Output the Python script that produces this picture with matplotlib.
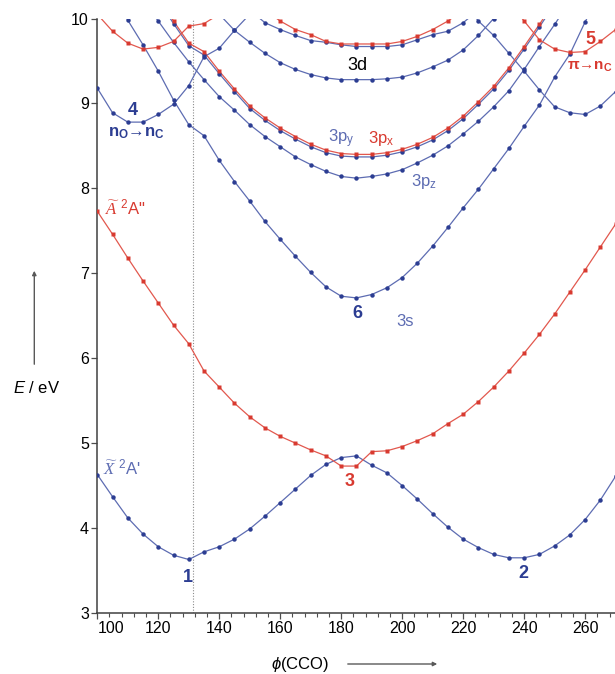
import numpy as np
import matplotlib
matplotlib.use('Agg')
import matplotlib.pyplot as plt

plt.rcParams.update({'font.family': ['Liberation Sans', 'DejaVu Sans'], 'font.size': 11,
                     'mathtext.fontset': 'custom',
                     'mathtext.rm': 'Liberation Sans',
                     'mathtext.it': 'Liberation Sans:italic',
                     'mathtext.bf': 'Liberation Sans:bold',
                     'mathtext.sf': 'Liberation Serif:italic',
                     'mathtext.fallback': 'stix'})

# CCO angle (deg) and energies (eV)
phi_X = np.arange(100, 271, 5)
E_X = [4.63, 4.37, 4.12, 3.93, 3.78, 3.68, 3.63, 3.72, 3.78, 3.87, 3.99, 4.14, 4.30, 4.46, 4.62, 4.75,
       4.83, 4.85, 4.74, 4.65, 4.50, 4.34, 4.17, 4.01, 3.87, 3.77, 3.69, 3.65, 3.65, 3.69, 3.79, 3.92,
       4.10, 4.33, 4.61]

phi_A = np.arange(100, 271, 5)
E_A = [7.73, 7.46, 7.18, 6.91, 6.65, 6.39, 6.17, 5.85, 5.66, 5.47, 5.31, 5.18, 5.08, 5.00, 4.92, 4.85,
       4.73, 4.73, 4.90, 4.91, 4.96, 5.03, 5.11, 5.23, 5.34, 5.49, 5.66, 5.85, 6.06, 6.28, 6.52, 6.78,
       7.04, 7.31, 7.58]

phi_3s = np.arange(105, 266, 5)
E_3s = [10.28, 9.98, 9.69, 9.38, 9.04, 8.75, 8.62, 8.33, 8.08, 7.85, 7.61, 7.40, 7.20, 7.01, 6.84, 6.73,
        6.71, 6.75, 6.83, 6.95, 7.12, 7.32, 7.54, 7.77, 7.99, 8.23, 8.47, 8.73, 8.98, 9.31, 9.58, 9.96,
        10.30]

phi_3pz = np.arange(115, 256, 5)
E_3pz = [10.20, 9.97, 9.72, 9.49, 9.28, 9.08, 8.92, 8.75, 8.61, 8.49, 8.37, 8.28, 8.20, 8.14, 8.12,
         8.14, 8.17, 8.22, 8.30, 8.39, 8.50, 8.64, 8.79, 8.96, 9.15, 9.40, 9.67, 9.93, 10.20]

phi_3p = np.arange(120, 251, 5)
E_3px = [10.25, 9.97, 9.71, 9.61, 9.38, 9.17, 8.97, 8.83, 8.71, 8.61, 8.52, 8.45, 8.41, 8.40, 8.40,
         8.42, 8.46, 8.52, 8.60, 8.71, 8.85, 9.02, 9.20, 9.42, 9.67, 9.93, 10.20]
E_3py = [10.22, 9.94, 9.68, 9.57, 9.35, 9.14, 8.94, 8.80, 8.68, 8.58, 8.49, 8.42, 8.38, 8.37, 8.37,
         8.39, 8.43, 8.49, 8.57, 8.68, 8.82, 8.99, 9.17, 9.39, 9.64, 9.90, 10.17]

phi_3d_lo = np.arange(140, 236, 5)
E_3d_lo = [10.05, 9.86, 9.72, 9.59, 9.48, 9.40, 9.34, 9.30, 9.28, 9.28, 9.28, 9.29, 9.31, 9.36, 9.43,
           9.51, 9.63, 9.80, 10.00, 10.20]

phi_3d_hi = np.arange(150, 226, 5)
E_3d_hi = [10.10, 9.95, 9.87, 9.80, 9.74, 9.72, 9.69, 9.67, 9.67, 9.67, 9.69, 9.75, 9.81, 9.85, 9.95,
           10.10]

phi_3d_red = np.arange(155, 221, 5)
E_3d_red = [10.10, 9.97, 9.87, 9.81, 9.73, 9.70, 9.70, 9.70, 9.70, 9.73, 9.79, 9.87, 9.97, 10.10]

phi_nn = np.arange(100, 151, 5)
E_nn = [9.18, 8.89, 8.78, 8.78, 8.87, 8.99, 9.21, 9.55, 9.65, 9.86, 10.05]

phi_blue_r = np.arange(220, 271, 5)
E_blue_r = [10.20, 9.97, 9.80, 9.59, 9.38, 9.16, 8.96, 8.89, 8.87, 8.97, 9.14]

phi_pi_l = np.arange(100, 141, 5)
E_pi_l = [10.05, 9.85, 9.71, 9.64, 9.66, 9.73, 9.91, 9.94, 10.05]

phi_pi_r = np.arange(235, 271, 5)
E_pi_r = [10.20, 9.97, 9.75, 9.64, 9.60, 9.61, 9.73, 9.87]

phi_dotted = 131.3

blue_line, blue_pt = '#5d6cb2', '#2c3d92'
red_line, red_pt = '#e2584e', '#d83a30'

blue_curves = [(phi_X, E_X), (phi_3s, E_3s), (phi_3pz, E_3pz), (phi_3p, E_3py), (phi_3d_lo, E_3d_lo),
               (phi_3d_hi, E_3d_hi), (phi_nn, E_nn), (phi_blue_r, E_blue_r)]
red_curves = [(phi_A, E_A), (phi_3p, E_3px), (phi_3d_red, E_3d_red), (phi_pi_l, E_pi_l),
              (phi_pi_r, E_pi_r)]

fig = plt.figure(figsize=(6.15, 6.74), dpi=100)
ax = fig.add_axes([97.3 / 615, 61 / 674, (615 - 97.3) / 615, 594.5 / 674])

for x, y in blue_curves:
    ax.plot(x, y, '-', color=blue_line, lw=0.9, zorder=2)
    ax.plot(x, y, 'o', color=blue_pt, ms=3.2, mec='none', zorder=3)
for x, y in red_curves:
    ax.plot(x, y, '-', color=red_line, lw=0.9, zorder=2)
    ax.plot(x, y, 's', color=red_pt, ms=3.2, mec='none', zorder=3)

ax.axvline(phi_dotted, color='0.55', lw=0.8, ls=(0, (1, 1.5)), zorder=1)

ax.set_xlim(100, 269.8)
ax.set_ylim(3, 10)
ax.set_xticks(np.arange(100, 261, 20))
ax.set_xticks(np.arange(100, 270, 4), minor=True)
ax.set_yticks(np.arange(3, 11, 1))
for s in ['top', 'right']:
    ax.spines[s].set_visible(False)
for s in ['left', 'bottom']:
    ax.spines[s].set_color('0.25')
    ax.spines[s].set_linewidth(1.1)
ax.tick_params(axis='both', which='major', length=4, width=0.9, color='0.3', pad=2, labelsize=11.5)
ax.tick_params(axis='x', which='minor', length=3, width=0.8, color='0.3')
ax.get_xticklabels()[0].set_horizontalalignment('left')

# state labels
ax.text(108.1, 4.71, r'$\widetilde{\mathsf{X}}$ $^{2}$' + "A'", color=blue_line, fontsize=12,
        ha='center', va='center')
ax.text(109.4, 7.77, r'$\widetilde{\mathsf{A}}$ $^{2}$' + 'A"', color=red_pt, fontsize=12,
        ha='center', va='center')
ax.text(129.8, 3.42, '1', color=blue_pt, fontsize=13, fontweight='bold', ha='center', va='center')
ax.text(239.9, 3.47, '2', color=blue_pt, fontsize=13, fontweight='bold', ha='center', va='center')
ax.text(182.9, 4.55, '3', color=red_pt, fontsize=13, fontweight='bold', ha='center', va='center')
ax.text(111.7, 8.92, '4', color=blue_pt, fontsize=13, fontweight='bold', ha='center', va='center')
ax.text(112.7, 8.65, r'n$_\mathbf{O}$→n$_\mathbf{C}$', color=blue_pt, fontsize=12, fontweight='bold',
        ha='center', va='center')
ax.text(261.6, 9.75, '5', color=red_pt, fontsize=13, fontweight='bold', ha='center', va='center')
ax.text(254.0, 9.43, r'π→n$_\mathbf{C}$', color=red_pt, fontsize=11, fontweight='bold', ha='left',
        va='center', clip_on=False)
ax.text(185.2, 6.53, '6', color=blue_pt, fontsize=13, fontweight='bold', ha='center', va='center')
ax.text(200.9, 6.43, '3s', color=blue_line, fontsize=12, ha='center', va='center')
ax.text(185.2, 9.45, '3d', color='black', fontsize=13, ha='center', va='center')
ax.text(180.1, 8.59, r'3p$_\mathregular{y}$', color=blue_line, fontsize=12, ha='center', va='center')
ax.text(193.2, 8.59, r'3p$_\mathregular{x}$', color=red_pt, fontsize=12, ha='center', va='center')
ax.text(207.0, 8.08, r'3p$_\mathregular{z}$', color=blue_line, fontsize=12, ha='center', va='center')

# axis labels with arrows
fig.text(37 / 615, 286 / 674, r'$E$ / eV', fontsize=12, ha='center', va='center')
ax.annotate('', xy=(34.3, 406), xytext=(34.3, 307), xycoords='figure pixels', textcoords='figure pixels',
            arrowprops=dict(arrowstyle='-|>', color='0.35', lw=1.0, mutation_scale=6))
fig.text(300 / 615, 10 / 674, r'$\phi$(CCO)', fontsize=12, ha='center', va='center')
ax.annotate('', xy=(440, 10), xytext=(345, 10), xycoords='figure pixels', textcoords='figure pixels',
            arrowprops=dict(arrowstyle='-|>', color='0.35', lw=1.0, mutation_scale=6))

fig.savefig('out.png', dpi=100)
